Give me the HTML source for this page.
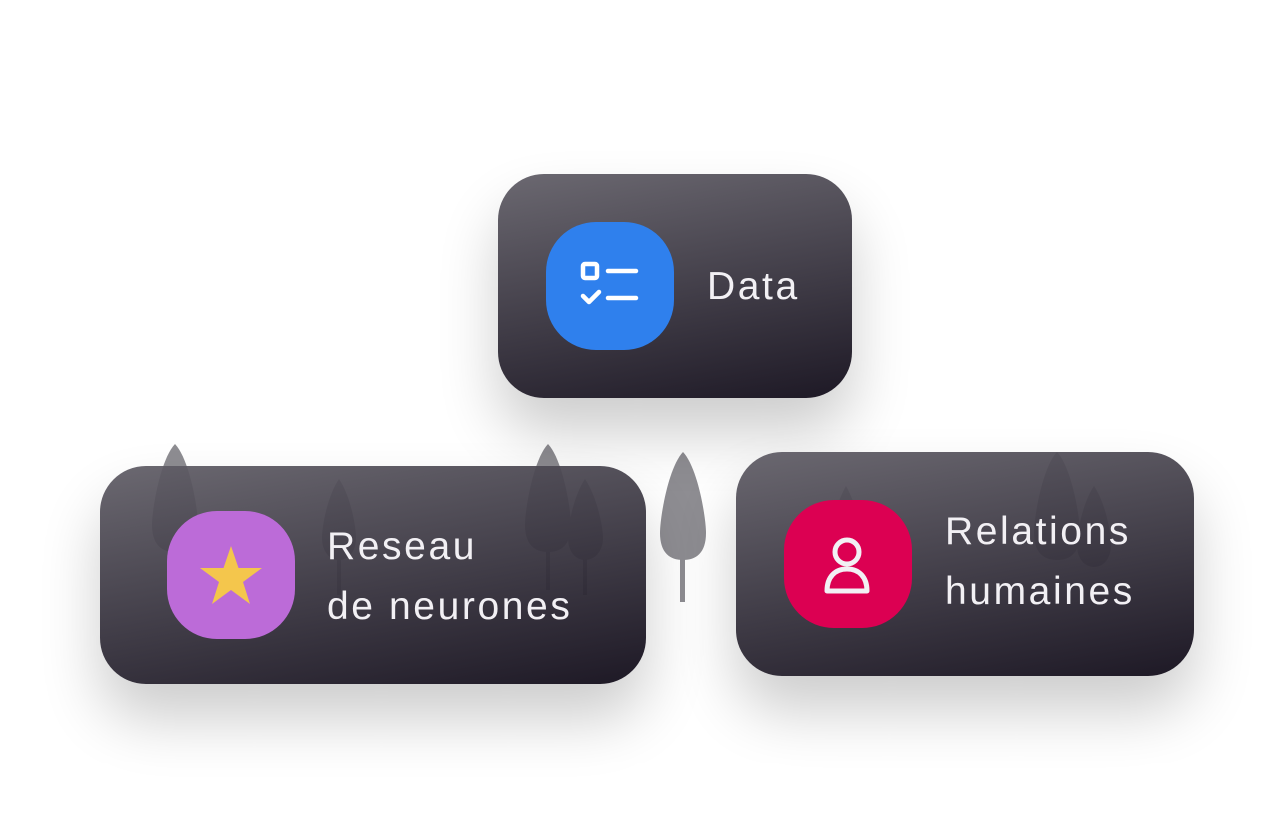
<!DOCTYPE html>
<html><head><meta charset="utf-8"><style>
body{margin:0;width:1274px;height:832px;background:#fff;position:relative;overflow:hidden;font-family:"Liberation Sans",sans-serif}
svg{position:absolute;left:0;top:0}
.card{position:absolute;border-radius:46px;background:linear-gradient(170deg,rgba(96,93,102,.93),rgba(22,17,30,.97));box-shadow:0 35px 60px rgba(0,0,0,.2)}
.ic{position:absolute;width:128px;height:128px;border-radius:50px}
.t{position:absolute;color:#f2f0f4;font-size:39px;line-height:60px;letter-spacing:2.6px}
</style></head><body>
<svg width="1274" height="832">
<g fill="#8e8d92">
<path d="M175 444 C160 460 152 510 152 525 C152 545 162 552 175 552 C188 552 198 545 198 525 C198 510 190 460 175 444Z"/><rect x="173" y="540" width="4" height="50"/>
<path d="M339 479 C328 495 322 525 322 538 C322 552 330 560 339 560 C348 560 356 552 356 538 C356 525 350 495 339 479Z"/><rect x="337" y="555" width="4" height="40"/>
<path d="M548 444 C533 460 525 510 525 525 C525 545 535 552 548 552 C561 552 571 545 571 525 C571 510 563 460 548 444Z"/><rect x="546" y="540" width="4" height="50"/>
<path d="M585 479 C574 495 568 525 568 538 C568 552 576 560 585 560 C594 560 603 552 603 538 C603 525 596 495 585 479Z"/><rect x="583" y="555" width="4" height="40"/>
<path d="M1057 452 C1042 468 1034 518 1034 533 C1034 553 1044 560 1057 560 C1070 560 1080 553 1080 533 C1080 518 1072 468 1057 452Z"/>
<path d="M1094 486 C1083 502 1077 532 1077 545 C1077 559 1085 567 1094 567 C1103 567 1111 559 1111 545 C1111 532 1105 502 1094 486Z"/>
<path d="M846 486 C838 500 830 525 830 540 C830 552 838 560 846 560 C854 560 862 552 862 540 C862 525 854 500 846 486Z"/>
<path d="M683 452 C668 468 660 518 660 533 C660 553 670 560 683 560 C696 560 706 553 706 533 C706 518 698 468 683 452Z"/><rect x="680" y="550" width="5" height="52"/>
</g>
</svg>
<div class="card" style="left:498px;top:174px;width:354px;height:224px"></div>
<div class="card" style="left:100px;top:466px;width:546px;height:218px"></div>
<div class="card" style="left:736px;top:452px;width:458px;height:224px"></div>

<div class="ic" style="left:546px;top:222px;background:#2f80ed">
<svg width="128" height="128" viewBox="0 0 128 128" fill="none" stroke="#fff" stroke-width="4.5" stroke-linecap="round" stroke-linejoin="round">
<rect x="37" y="42" width="14" height="14" rx="2"/><path d="M62 49h28M62 76h28M37 74l6 6 10-10"/></svg></div>
<div class="t" style="left:707px;top:257px">Data</div>

<div class="ic" style="left:167px;top:511px;background:#bc6bd8">
<svg width="128" height="128" viewBox="0 0 128 128"><polygon fill="#f4c64c" points="64,35 71.5,57 95,57 76,71 83,93 64,79 45,93 52,71 33,57 56.5,57"/></svg></div>
<div class="t" style="left:327px;top:517px">Reseau<br>de neurones</div>

<div class="ic" style="left:784px;top:500px;background:#dc0052">
<svg width="128" height="128" viewBox="0 0 128 128" fill="none" stroke="#f2f0f4" stroke-width="5" stroke-linejoin="round">
<circle cx="63" cy="52" r="12"/><path d="M43 91h40c0-14-8-22-20-22s-20 8-20 22z"/></svg></div>
<div class="t" style="left:945px;top:502px">Relations<br>humaines</div>
</body></html>
